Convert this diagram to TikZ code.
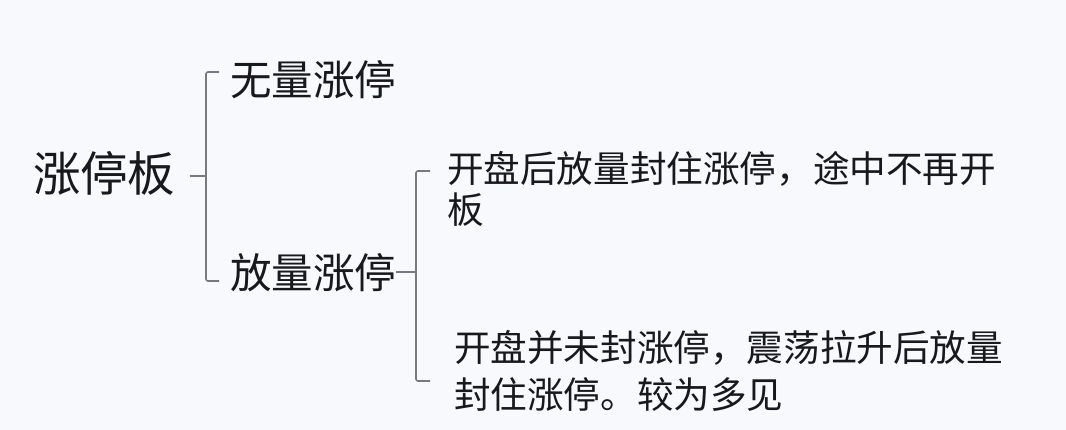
\documentclass[tikz,border=0pt]{standalone}
\usepackage{fontspec}
\newfontfamily\cjk{Noto Sans CJK SC}
\definecolor{bgc}{HTML}{F8F9FC}
\definecolor{ink}{HTML}{18181E}
\definecolor{brk}{HTML}{77797E}
\begin{document}
\begin{tikzpicture}[x=1pt,y=-1pt,
  lbl/.style={inner sep=0pt,outer sep=0pt,anchor=base west,text=ink},
  big/.style={lbl,font=\cjk\fontsize{47.5pt}{56pt}\selectfont},
  mid/.style={lbl,font=\cjk\fontsize{41.5pt}{50pt}\selectfont},
  small/.style={lbl,font=\cjk\fontsize{36.6pt}{44pt}\selectfont},
  brace/.style={draw=brk,line width=1.6pt,rounded corners=2pt}]
\fill[bgc] (0,0) rectangle (1066,430);
\useasboundingbox (0,0) rectangle (1066,430);
\node[big] (root) at (33,192) {涨停板};
\node[mid] (a) at (230,96) {无量涨停};
\node[mid] (b) at (230,289) {放量涨停};
\node[small] (b1) at (447,183) {开盘后放量封住涨停，途中不再开};
\node[small] (b1x) at (447,224) {板};
\node[small] (b2) at (454,362) {开盘并未封涨停，震荡拉升后放量};
\node[small] (b2x) at (454,408) {封住涨停。较为多见};
% first bracket
\coordinate (r0) at (192,176);
\coordinate (r1) at (206,176);
\coordinate (at) at (219,72);
\coordinate (bt) at (219,281);
\draw[brace] (root.east |- r0) ++(14,0) -- (r1);
\draw[brace] (at) -- (206,72) -- (206,281) -- (bt);
% second bracket
\coordinate (s1) at (416,272);
\coordinate (ct) at (430,171);
\coordinate (dt) at (430,381);
\draw[brace] (b.east |- s1) -- (s1);
\draw[brace] (ct) -- (416,171) -- (416,381) -- (dt);
\end{tikzpicture}
\end{document}
